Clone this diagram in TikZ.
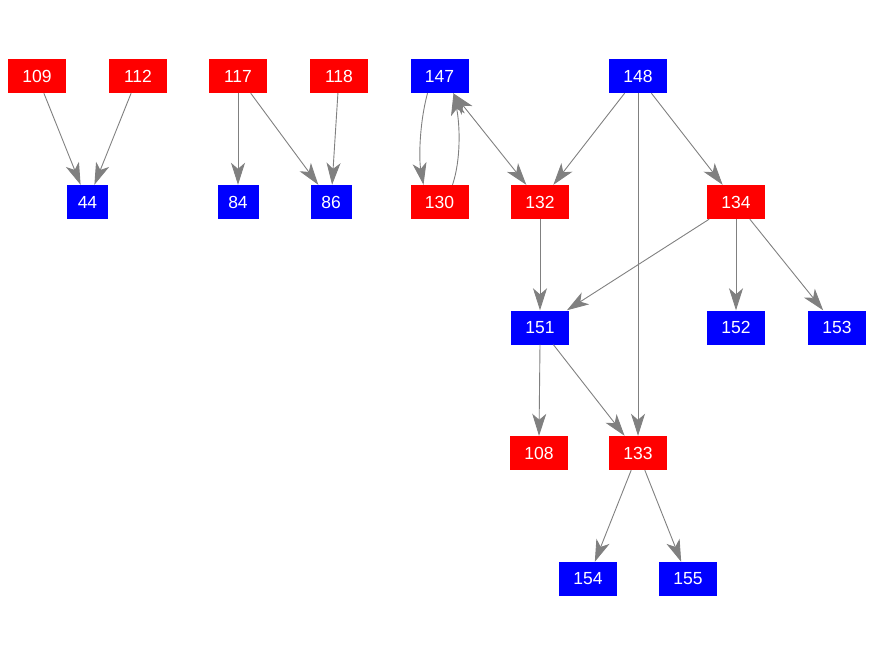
\documentclass[tikz,border=0pt]{standalone}
\usepackage{fontspec}
\setmainfont{Liberation Sans}
\usetikzlibrary{arrows.meta}
\definecolor{nred}{RGB}{255,0,0}
\definecolor{nblue}{RGB}{0,0,255}
\definecolor{egray}{RGB}{128,128,128}
\tikzset{
  vbox/.style={inner sep=0pt, minimum height=34pt, minimum width=58pt, text=white, font=\fontsize{17.5}{17.5}\selectfont},
  rbox/.style={vbox, fill=nred},
  bbox/.style={vbox, fill=nblue},
  narrow/.style={minimum width=41pt},
  tip/.tip={Stealth[length=22pt,width=14pt,inset=6pt]},
  edge/.style={draw=egray, line width=0.9pt, -tip}
}
\begin{document}
\begin{tikzpicture}[x=1pt,y=-1pt]
\useasboundingbox (0,0) rectangle (876,656);
% row 1
\node[rbox] (n109) at (37,76) {109};
\node[rbox] (n112) at (138,76) {112};
\node[rbox] (n117) at (238,76) {117};
\node[rbox] (n118) at (339,76) {118};
\node[bbox] (n147) at (439.5,76) {147};
\node[bbox] (n148) at (638,76) {148};
% row 2
\node[bbox,narrow] (n44) at (87.5,202) {44};
\node[bbox,narrow] (n84) at (238,202) {84};
\node[bbox,narrow] (n86) at (331,202) {86};
\node[rbox] (n130) at (439.5,202) {130};
\node[rbox] (n132) at (540,202) {132};
\node[rbox] (n134) at (736,202) {134};
% row 3
\node[bbox] (n151) at (540,327.5) {151};
\node[bbox] (n152) at (736,327.5) {152};
\node[bbox] (n153) at (837,327.5) {153};
% row 4
\node[rbox] (n108) at (539,453) {108};
\node[rbox] (n133) at (638,453) {133};
% row 5
\node[bbox] (n154) at (588,579) {154};
\node[bbox] (n155) at (688,579) {155};
% edges
\draw[edge] (n109) -- (n44);
\draw[edge] (n112) -- (n44);
\draw[edge] (n117) -- (n84);
\draw[edge] (n117) -- (n86);
\draw[edge] (n118) -- (n86);
\draw[edge] ([xshift=-12pt]n147.south) .. controls (419,125) and (419,160) .. ([xshift=-16pt]n130.north);
\draw[edge] ([xshift=13pt]n130.north) .. controls (461,160) and (460,125) .. ([xshift=14pt]n147.south);
\draw[edge, tip-tip] (n147) -- (n132);
\draw[edge] (n148) -- (n132);
\draw[edge] (n148) -- (n133);
\draw[edge] (n148) -- (n134);
\draw[edge] (n132) -- (n151);
\draw[edge] (n134) -- (n151);
\draw[edge] (n134) -- (n152);
\draw[edge] (n134) -- (n153);
\draw[edge] (n151.south) -- (n108.north);
\draw[edge] (n151) -- (n133);
\draw[edge] (n133) -- (n154);
\draw[edge] (n133) -- (n155);
\end{tikzpicture}
\end{document}
